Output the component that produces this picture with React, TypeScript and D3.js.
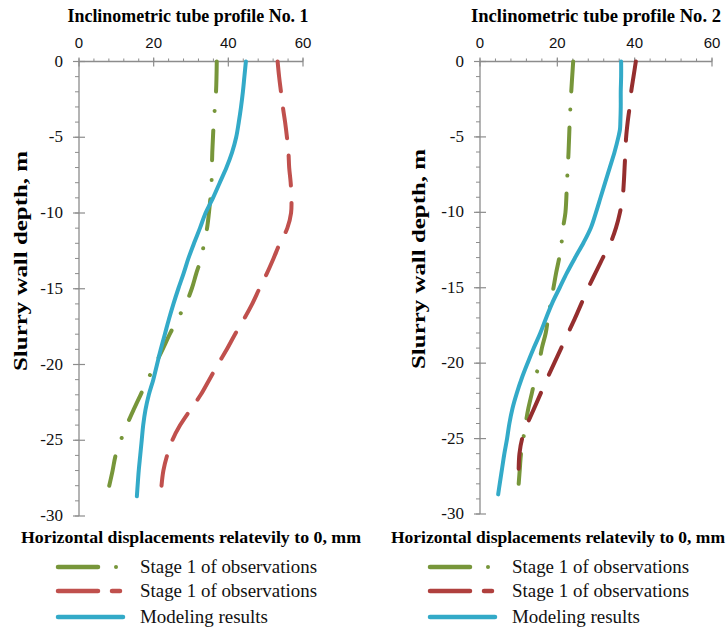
import React from "react";
import * as d3 from "d3";

// ---------- data ----------
const X_TICKS = [0, 20, 40, 60];
const Y_TICKS = [0, -5, -10, -15, -20, -25, -30];

const L_GREEN_DEPTH = [0, -2, -4, -6, -8, -9, -10, -11, -12, -13, -14, -15, -16, -17, -18, -19, -20, -21, -22, -23, -24, -25, -26, -27, -28];
const L_GREEN = [36.9, 36.7, 36.1, 35.7, 35.5, 35.2, 34.8, 34.3, 33.5, 32.7, 31.4, 30.2, 28.6, 26.4, 24.3, 22.4, 20.4, 18.4, 16.5, 14.6, 12.8, 11.2, 9.8, 9.0, 8.1];

const L_RED_DEPTH = [0, -1, -2, -3, -4, -5, -6, -7, -8, -9, -10, -11, -12, -13, -14, -15, -16, -17, -18, -19, -20, -21, -22, -23, -24, -25, -26, -27, -28];
const L_RED = [53.2, 53.6, 54.1, 54.6, 55.2, 55.7, 56.1, 56.3, 56.7, 56.9, 56.8, 55.8, 53.8, 52.1, 50.3, 48.3, 46.4, 44.2, 41.8, 39.6, 37.2, 34.9, 32.6, 29.8, 27.1, 25.0, 23.6, 22.6, 22.1];

const L_CYAN_DEPTH = [0, -1, -2, -3, -4, -5, -6, -7, -8, -9, -10, -11, -12, -13, -14, -15, -16, -17, -18, -19, -20, -21, -22, -23, -24, -25, -26, -27, -28, -28.7];
const L_CYAN = [44.7, 44.3, 43.9, 43.4, 42.8, 42.1, 41.0, 39.5, 37.7, 35.9, 33.9, 32.4, 30.8, 29.3, 28.0, 26.6, 25.3, 24.1, 23.0, 21.9, 20.9, 19.9, 18.7, 17.8, 17.2, 16.8, 16.4, 16.0, 15.7, 15.5];

const R_GREEN_DEPTH = [0, -2, -4, -6, -8, -10, -11, -12, -13, -14, -15, -16, -17, -18, -19, -20, -21, -22, -23, -24, -25, -26, -27, -28];
const R_GREEN = [24.1, 23.6, 23.2, 22.9, 22.5, 22.1, 21.5, 21.1, 20.5, 19.7, 19.0, 18.3, 17.6, 17.0, 16.0, 15.3, 14.3, 13.4, 12.5, 11.8, 11.2, 10.6, 10.3, 10.0];

const R_RED_DEPTH = [0, -1, -2, -3, -4, -5, -6, -7, -8, -9, -10, -11, -12, -13, -14, -15, -16, -17, -18, -19, -20, -21, -22, -23, -24, -25, -26, -27];
const R_RED = [40.3, 39.7, 39.1, 38.7, 38.2, 37.8, 37.6, 37.4, 37.2, 36.9, 36.2, 35.2, 33.8, 31.8, 29.9, 28.0, 26.3, 24.6, 22.8, 21.0, 19.2, 17.4, 15.7, 14.0, 12.3, 10.9, 10.2, 10.0];

const R_CYAN_DEPTH = [0, -1, -2, -3, -4, -4.5, -5, -6, -7, -8, -9, -10, -11, -12, -13, -14, -15, -16, -17, -18, -19, -20, -21, -22, -23, -24, -25, -26, -27, -28, -28.7];
const R_CYAN = [36.5, 36.5, 36.4, 36.4, 36.3, 36.2, 35.8, 34.8, 33.6, 32.4, 31.2, 30.0, 28.7, 26.8, 24.6, 22.5, 20.6, 18.7, 17.1, 15.6, 13.9, 12.3, 10.8, 9.5, 8.4, 7.6, 7.0, 6.3, 5.7, 5.1, 4.7];

const LEGEND_LABELS = ["Stage 1 of observations", "Stage 1 of observations", "Modeling results"];

// ---------- style ----------
const GREEN = "#77963A";
const RED_L = "#C0504D";
const RED_R = "#952E2E";
const CYAN = "#33AAC8";
const AXIS = "#8C8C8C";
const SERIF = "Liberation Serif, Times New Roman, Times, serif";
const SANS = "Liberation Sans, Arial, sans-serif";

type Series = { depth: number[]; vals: number[]; color: string; kind: "dashdot" | "dash" | "solid" };

type PanelProps = {
  title: string;
  titleX: number;
  titleLen: number;
  x0: number;
  x1: number;
  yTop: number;
  yBot: number;
  ytitleX: number;
  ytitleY: number;
  xlabelX: number;
  xlabelLen: number;
  series: Series[];
  legendX: number;
  legendRed: string;
};

function Panel(p: PanelProps) {
  const x = d3.scaleLinear().domain([0, 60]).range([p.x0, p.x1]);
  const y = d3.scaleLinear().domain([-30, 0]).range([p.yBot, p.yTop]);
  const minorX = d3.range(0, 60.001, 4);
  const minorY = d3.range(-30, 0.001, 1);
  const lineGen = (s: Series) =>
    d3
      .line<number>()
      .x((_, i) => x(s.vals[i]))
      .y((d) => y(d))
      .curve(d3.curveCatmullRom.alpha(0.5))(s.depth) || "";

  const dashFor = (s: Series) => {
    if (s.kind === "solid") return undefined;
    let L = 0;
    for (let i = 1; i < s.depth.length; i++) {
      L += Math.hypot(x(s.vals[i]) - x(s.vals[i - 1]), y(s.depth[i]) - y(s.depth[i - 1]));
    }
    if (s.kind === "dashdot") {
      const dash = 30;
      const n = Math.max(1, Math.round((L - dash) / 67));
      const period = (L - dash) / n;
      const gap = (period - dash) / 2;
      return `${dash} ${gap} 0.01 ${gap}`;
    }
    const dash = 30;
    const n = Math.max(1, Math.round((L - dash) / 47));
    const period = (L - dash) / n;
    return `${dash} ${period - dash}`;
  };

  const lx = p.legendX;
  const rows = [567, 591, 617];
  const serif = { fontFamily: SERIF };
  return (
    <g>
      <text x={p.titleX} y={22} textAnchor="middle" style={serif} fontWeight="bold" fontSize={18} textLength={p.titleLen} lengthAdjust="spacingAndGlyphs">
        {p.title}
      </text>
      {/* x axis on top */}
      <line x1={p.x0} x2={p.x1} y1={p.yTop} y2={p.yTop} stroke={AXIS} strokeWidth={1.3} />
      {minorX.map((t) => (
        <line key={"mx" + t} x1={x(t)} x2={x(t)} y1={p.yTop - 3} y2={p.yTop} stroke={AXIS} strokeWidth={1} />
      ))}
      {X_TICKS.map((t) => (
        <g key={"x" + t}>
          <line x1={x(t)} x2={x(t)} y1={p.yTop - 4} y2={p.yTop + 5} stroke={AXIS} strokeWidth={1.2} />
          <text x={x(t)} y={48} textAnchor="middle" style={{ fontFamily: SANS }} fontSize={15} fill="#111">
            {t}
          </text>
        </g>
      ))}
      {/* y axis */}
      <line x1={p.x0} x2={p.x0} y1={p.yTop} y2={p.yBot} stroke={AXIS} strokeWidth={1.3} />
      {minorY.map((t) => (
        <line key={"my" + t} x1={p.x0 - 4} x2={p.x0} y1={y(t)} y2={y(t)} stroke={AXIS} strokeWidth={1} />
      ))}
      {Y_TICKS.map((t) => (
        <g key={"y" + t}>
          <line x1={p.x0 - 6} x2={p.x0 + 6} y1={y(t)} y2={y(t)} stroke={AXIS} strokeWidth={1.2} />
          <text x={p.x0 - 16} y={y(t) + 5} textAnchor="end" style={serif} fontSize={17} fill="#111">
            {t}
          </text>
        </g>
      ))}
      <text
        transform={`translate(${p.ytitleX},${p.ytitleY}) rotate(-90)`}
        textAnchor="middle"
        style={serif}
        fontWeight="bold"
        fontSize={18}
        textLength={220}
        lengthAdjust="spacingAndGlyphs"
      >
        Slurry wall depth, m
      </text>
      {/* series */}
      {p.series.map((s, i) => (
        <path key={i} d={lineGen(s)} fill="none" stroke={s.color} strokeWidth={4} strokeDasharray={dashFor(s)} strokeLinecap="round" strokeLinejoin="round" />
      ))}
      <text x={p.xlabelX} y={543} style={serif} fontWeight="bold" fontSize={17} textLength={p.xlabelLen} lengthAdjust="spacingAndGlyphs">
        Horizontal displacements  relatevily  to 0, mm
      </text>
      {/* legend */}
      <line x1={lx} x2={lx + 40} y1={rows[0]} y2={rows[0]} stroke={GREEN} strokeWidth={4.5} strokeLinecap="round" />
      <circle cx={lx + 58} cy={rows[0]} r={2} fill={GREEN} />
      <line x1={lx} x2={lx + 40} y1={rows[1]} y2={rows[1]} stroke={p.legendRed} strokeWidth={4.5} strokeLinecap="round" />
      <line x1={lx + 54} x2={lx + 62} y1={rows[1]} y2={rows[1]} stroke={p.legendRed} strokeWidth={4.5} strokeLinecap="round" />
      <line x1={lx} x2={lx + 65} y1={rows[2]} y2={rows[2]} stroke={CYAN} strokeWidth={4.5} strokeLinecap="round" />
      {LEGEND_LABELS.map((l, i) => (
        <text key={i} x={lx + 82} y={rows[i] + 6} style={serif} fontSize={19} fill="#111" textLength={i < 2 ? 177 : 128} lengthAdjust="spacingAndGlyphs">
          {l}
        </text>
      ))}
    </g>
  );
}

export default function App() {
  return (
    <svg width={726} height={629} style={{ position: "absolute", left: 0, top: 0, background: "#fff" }}>
      <rect width={726} height={629} fill="#fff" />
      <Panel
        title="Inclinometric tube profile  No. 1"
        titleX={188}
        titleLen={241}
        x0={79}
        x1={303}
        yTop={61.5}
        yBot={516}
        ytitleX={27}
        ytitleY={261}
        xlabelX={21}
        xlabelLen={340}
        legendX={58}
        legendRed={RED_L}
        series={[
          { depth: L_GREEN_DEPTH, vals: L_GREEN, color: GREEN, kind: "dashdot" },
          { depth: L_RED_DEPTH, vals: L_RED, color: RED_L, kind: "dash" },
          { depth: L_CYAN_DEPTH, vals: L_CYAN, color: CYAN, kind: "solid" },
        ]}
      />
      <Panel
        title="Inclinometric tube profile  No. 2"
        titleX={596}
        titleLen={250}
        x0={480}
        x1={712}
        yTop={61.5}
        yBot={514}
        ytitleX={425}
        ytitleY={259}
        xlabelX={391}
        xlabelLen={334}
        legendX={430}
        legendRed={"#B0403E"}
        series={[
          { depth: R_GREEN_DEPTH, vals: R_GREEN, color: GREEN, kind: "dashdot" },
          { depth: R_RED_DEPTH, vals: R_RED, color: RED_R, kind: "dash" },
          { depth: R_CYAN_DEPTH, vals: R_CYAN, color: CYAN, kind: "solid" },
        ]}
      />
    </svg>
  );
}
